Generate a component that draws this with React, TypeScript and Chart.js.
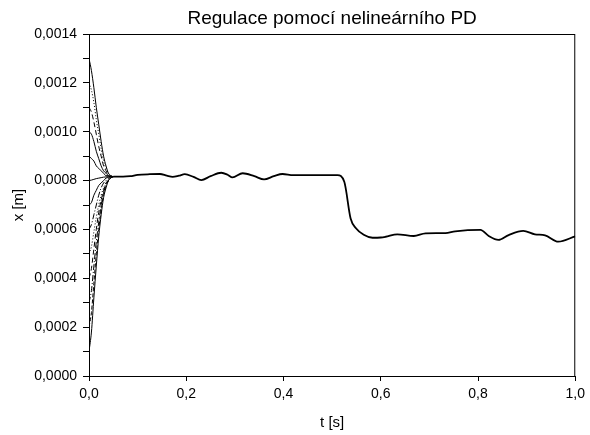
import React, { useEffect, useRef } from "react";
import { Chart, registerables } from "chart.js";

Chart.register(...registerables);

const chartTitle = "Regulace pomocí nelineárního PD";

// Time grid for the initial transients [s]
const transientTimes = [0, 0.005, 0.01, 0.015, 0.02, 0.025, 0.03, 0.035, 0.04, 0.045, 0.05];

// Transient responses from various initial positions [m]
const run13 = [0.0013, 0.00125, 0.00118, 0.0011, 0.00103, 0.00096, 0.0009, 0.00086, 0.00083, 0.00082, 0.000816];
const run12 = [0.0012, 0.00117, 0.00112, 0.00105, 0.00099, 0.00093, 0.00088, 0.00085, 0.00083, 0.00082, 0.000816];
const run11 = [0.0011, 0.00108, 0.00104, 0.00099, 0.00094, 0.0009, 0.00086, 0.00084, 0.00082, 0.000818, 0.000816];
const run10 = [0.001, 0.00099, 0.00096, 0.00092, 0.00089, 0.00086, 0.00084, 0.00083, 0.00082, 0.000817, 0.000816];
const run09 = [0.0009, 0.00089, 0.00088, 0.00086, 0.00085, 0.00084, 0.00083, 0.00082, 0.00082, 0.000817, 0.000816];
const run08 = [0.0008, 0.000802, 0.000805, 0.000808, 0.00081, 0.000812, 0.000814, 0.000815, 0.000816, 0.000816, 0.000816];
const run07 = [0.0007, 0.00071, 0.00074, 0.00076, 0.00078, 0.00079, 0.0008, 0.00081, 0.000814, 0.000816, 0.000816];
const run06 = [0.0006, 0.00062, 0.00066, 0.0007, 0.00074, 0.00077, 0.00079, 0.0008, 0.00081, 0.000815, 0.000816];
const run05 = [0.0005, 0.00053, 0.00059, 0.00065, 0.0007, 0.00074, 0.00077, 0.00079, 0.00081, 0.000814, 0.000816];
const run04 = [0.0004, 0.00044, 0.00052, 0.0006, 0.00067, 0.00072, 0.00076, 0.00079, 0.0008, 0.000813, 0.000816];
const run03 = [0.0003, 0.00035, 0.00045, 0.00055, 0.00063, 0.0007, 0.00075, 0.00078, 0.0008, 0.000812, 0.000816];
const run02 = [0.0002, 0.00026, 0.00038, 0.0005, 0.0006, 0.00068, 0.00074, 0.00078, 0.0008, 0.000812, 0.000816];
const run01 = [0.0001, 0.00018, 0.00032, 0.00045, 0.00057, 0.00066, 0.00073, 0.00077, 0.0008, 0.000811, 0.000816];

const runs = [run13, run12, run11, run10, run09, run08, run07, run06, run05, run04, run03, run02, run01];
const runDashes: number[][] = [[], [1, 2], [5, 3], [], [], [], [], [6, 2, 1, 2], [1, 2], [5, 3], [6, 2, 1, 2], [4, 2], []];

// Common trajectory after convergence
const tailTimes = [
  0.05, 0.07, 0.085, 0.1, 0.125, 0.146, 0.16, 0.172, 0.185, 0.197, 0.215, 0.231, 0.25, 0.272, 0.285,
  0.295, 0.316, 0.34, 0.36, 0.38, 0.398, 0.42, 0.45, 0.48, 0.511, 0.525, 0.538, 0.549, 0.565, 0.583,
  0.6, 0.61, 0.634, 0.668, 0.692, 0.733, 0.753, 0.805, 0.822, 0.842, 0.863, 0.893, 0.917, 0.938, 0.965, 1.0,
];
const tailValues = [
  0.000816, 0.000816, 0.000818, 0.000823, 0.000826, 0.000827, 0.00082, 0.000815, 0.00082, 0.000826, 0.000815,
  0.000802, 0.000818, 0.000832, 0.000824, 0.000813, 0.00083, 0.000818, 0.000805, 0.000818, 0.000827, 0.000822,
  0.000822, 0.000822, 0.000822, 0.000795, 0.000645, 0.000605, 0.000578, 0.000566, 0.000567, 0.00057, 0.00058,
  0.000573, 0.000584, 0.000585, 0.000592, 0.000598, 0.000573, 0.000557, 0.000577, 0.000594, 0.00058, 0.000576,
  0.00055, 0.000572,
];

const xTicks = [0, 0.2, 0.4, 0.6, 0.8, 1.0];

const FONT = "'Liberation Sans', Arial, sans-serif";

const frameBox = {
  id: "frameBox",
  afterDatasetsDraw(chart: any) {
    const { ctx, chartArea } = chart;
    ctx.save();
    ctx.strokeStyle = "#000";
    ctx.lineWidth = 1;
    ctx.strokeRect(chartArea.left + 0.5, chartArea.top + 0.5, chartArea.right - chartArea.left - 1, chartArea.bottom - chartArea.top);
    // title centred over the plot area
    ctx.fillStyle = "#000";
    ctx.font = `19px ${FONT}`;
    ctx.textAlign = "center";
    ctx.textBaseline = "alphabetic";
    ctx.fillText(chartTitle, (chartArea.left + chartArea.right) / 2, 24);
    ctx.restore();
  },
};

export default function App() {
  const ref = useRef<HTMLCanvasElement | null>(null);

  useEffect(() => {
    document.body.style.margin = "0";
    const datasets: any[] = runs.map((r, i) => ({
      data: transientTimes.map((t, j) => ({ x: t, y: r[j] })),
      borderColor: "#000",
      borderWidth: 1,
      borderDash: runDashes[i],
      pointRadius: 0,
      cubicInterpolationMode: "monotone",
    }));
    datasets.push({
      data: tailTimes.map((t, j) => ({ x: t, y: tailValues[j] })),
      borderColor: "#000",
      borderWidth: 1.8,
      pointRadius: 0,
      cubicInterpolationMode: "monotone",
    });

    const chart = new Chart(ref.current!, {
      type: "line",
      data: { datasets },
      plugins: [frameBox],
      options: {
        animation: false,
        responsive: false,
        layout: { padding: { left: 0, top: 34, right: 13, bottom: 0 } },
        plugins: {
          legend: { display: false },
          tooltip: { enabled: false },
          title: { display: false },
        },
        scales: {
          x: {
            type: "linear",
            min: 0,
            max: 1,
            afterBuildTicks: (scale: any) => {
              scale.ticks = xTicks.map((v) => ({ value: v }));
            },
            afterFit: (scale: any) => {
              scale.height = 59;
            },
            ticks: {
              color: "#000",
              font: { family: FONT, size: 14 },
              padding: 5,
              maxRotation: 0,
              autoSkip: false,
              callback: (v: any) => Number(v).toFixed(1).replace(".", ","),
            },
            grid: { drawOnChartArea: false, tickLength: 5, color: "#000" },
            border: { color: "#000", width: 1 },
            title: {
              display: true,
              text: "t [s]",
              color: "#000",
              font: { family: FONT, size: 15 },
              padding: { top: 0, bottom: 3 },
            },
          },
          y: {
            type: "linear",
            min: 0,
            max: 0.0014,
            afterFit: (scale: any) => {
              scale.width = 89;
            },
            ticks: {
              stepSize: 0.0001,
              color: "#000",
              font: { family: FONT, size: 14 },
              padding: 6,
              autoSkip: false,
              callback: (v: any) => {
                const k = Math.round(Number(v) * 10000);
                return k % 2 === 0 ? (k / 10000).toFixed(4).replace(".", ",") : "";
              },
            },
            grid: { drawOnChartArea: false, tickLength: 6, color: "#000" },
            border: { color: "#000", width: 1 },
            title: {
              display: true,
              text: "x [m]",
              color: "#000",
              font: { family: FONT, size: 15 },
              padding: { top: 9.5, bottom: 0 },
            },
          },
        },
      },
    });
    return () => chart.destroy();
  }, []);

  return (
    <div style={{ position: "absolute", left: 0, top: 0, width: 590, height: 435 }}>
      <canvas ref={ref} width={590} height={435} style={{ display: "block" }} />
    </div>
  );
}
